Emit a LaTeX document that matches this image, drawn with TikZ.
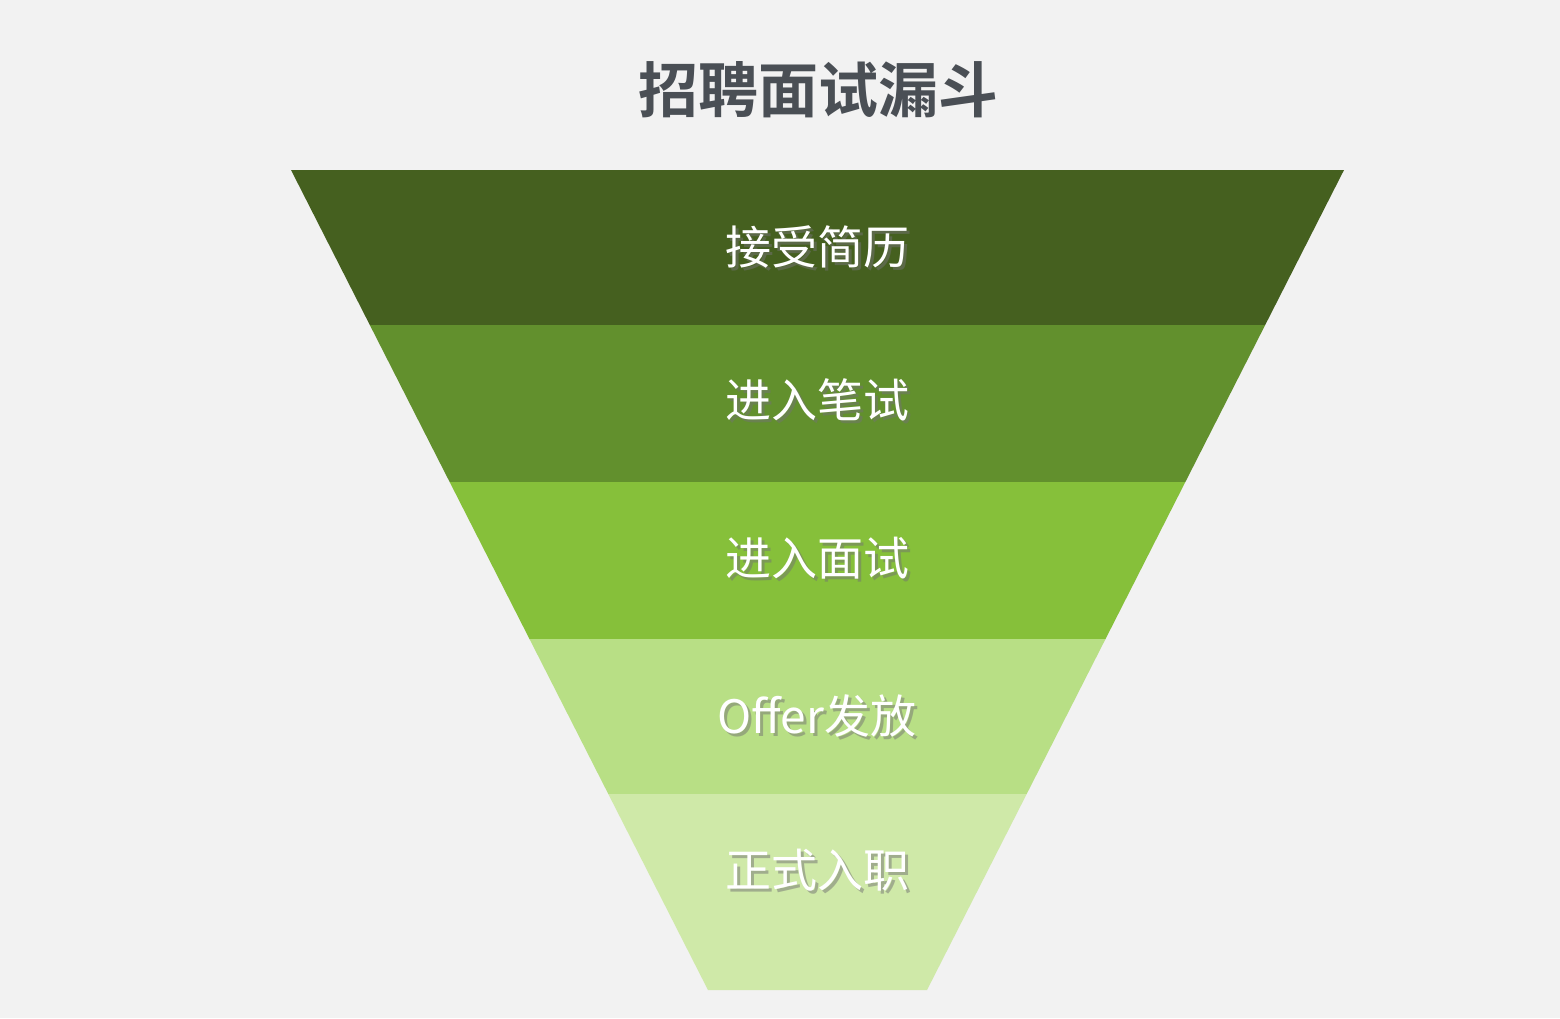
\documentclass[tikz,border=0pt]{standalone}
\usepackage{fontspec}
\setmainfont{Noto Sans CJK SC}
\newfontfamily\cjkb{Noto Sans CJK SC Bold}
\definecolor{bg}{HTML}{F2F2F2}
\definecolor{c1}{HTML}{45601F}
\definecolor{c2}{HTML}{62902D}
\definecolor{c3}{HTML}{86C03A}
\definecolor{c4}{HTML}{B8DF85}
\definecolor{c5}{HTML}{CFE9A8}
\definecolor{tt}{HTML}{4A4F55}
\tikzset{lab/.style={text=white,font=\fontsize{46}{50}\selectfont},
shad/.style={text=black!55,opacity=0.5,font=\fontsize{46}{50}\selectfont}}
\begin{document}
\begin{tikzpicture}[x=1pt,y=-1pt]
\fill[bg] (0,0) rectangle (1560,1018);
\node[text=tt,font=\cjkb\fontsize{60}{64}\selectfont] (title) at (818,90) {招聘面试漏斗};
\def\lx#1{(291+0.5085*(#1-170))}
\foreach \ya/\yb/\c [count=\i] in {170/325/c1,325/482/c2,482/639/c3,639/794/c4,794/990/c5}{
  \fill[\c] ({291+0.5085*(\ya-170)},\ya) -- ({1344-0.5085*(\ya-170)},\ya) -- ({1344-0.5085*(\yb-170)},\yb) -- ({291+0.5085*(\yb-170)},\yb) -- cycle;
}
\foreach \y/\t [count=\i] in {247/接受简历,400/进入笔试,558/进入面试,716/Offer发放,870/正式入职}{
  \node[shad] at (820,\y+3) {\t};
  \node[lab] (l\i) at (817,\y) {\t};
}
\end{tikzpicture}
\end{document}
